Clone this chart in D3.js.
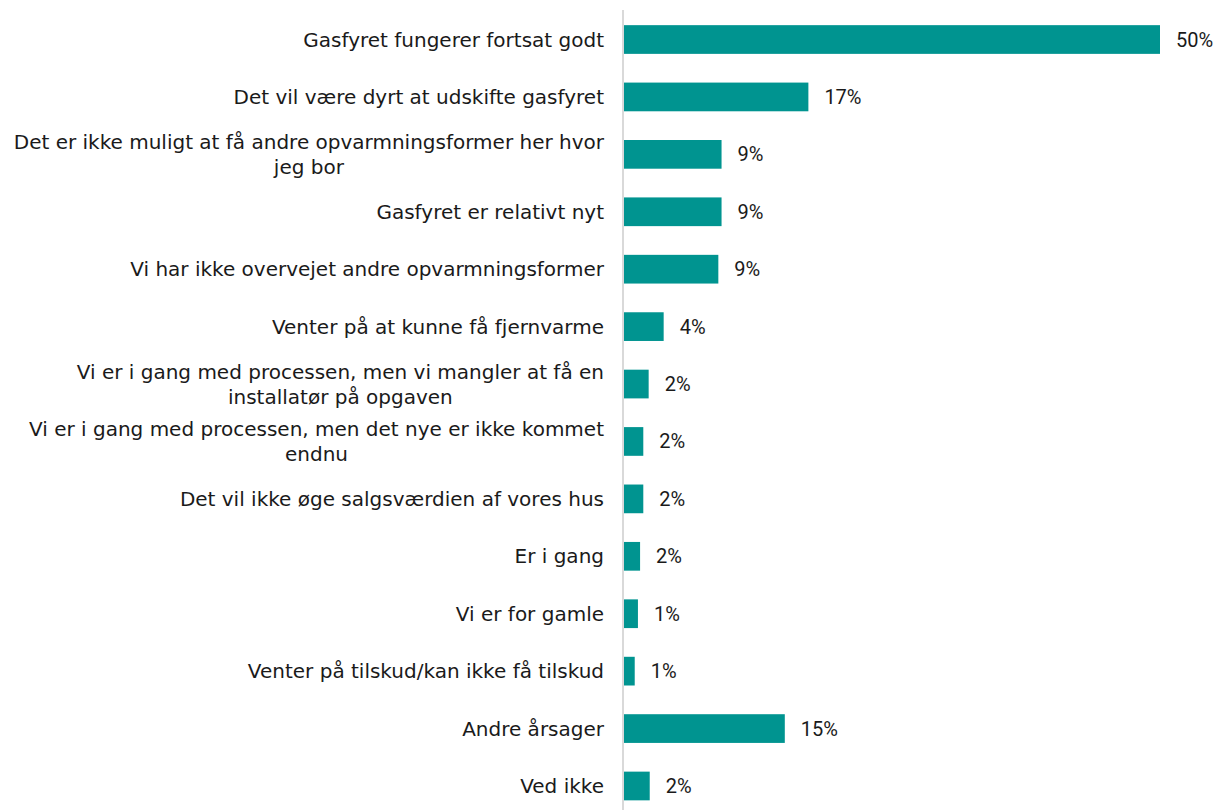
<!DOCTYPE html>
<html>
<head>
<meta charset="utf-8">
<script src="https://cdn.jsdelivr.net/npm/d3@7"></script>
<style>
  body { margin: 0; background: #fff; }
  svg { display: block; font-family: "DejaVu Sans", sans-serif; }
</style>
</head>
<body>
<svg class="d3-content"></svg>
<script>
//data
const categories = [
    "Gasfyret fungerer fortsat godt",
    "Det vil være dyrt at udskifte gasfyret",
    "Det er ikke muligt at få andre opvarmningsformer her hvor\njeg bor",
    "Gasfyret er relativt nyt",
    "Vi har ikke overvejet andre opvarmningsformer",
    "Venter på at kunne få fjernvarme",
    "Vi er i gang med processen, men vi mangler at få en\ninstallatør på opgaven",
    "Vi er i gang med processen, men det nye er ikke kommet\nendnu",
    "Det vil ikke øge salgsværdien af vores hus",
    "Er i gang",
    "Vi er for gamle",
    "Venter på tilskud/kan ikke få tilskud",
    "Andre årsager",
    "Ved ikke"
]
const values = [50, 17.2, 9.1, 9.1, 8.8, 3.7, 2.3, 1.8, 1.8, 1.5, 1.3, 1.0, 15.0, 2.4]
const dataSet = categories.map((c, i) => ({ category: c, value: values[i] }))

//dimensions
const w = 1217
const h = 810
const axisX = 623
const labelRight = 604
const fontSize = 20

//scales
const xScale = d3.scaleLinear()
    .domain([0, 50])
    .range([624, 1160])
const yScale = d3.scaleBand()
    .domain(categories)
    .range([10.8, 814.7])
    .paddingInner(0.5)
    .paddingOuter(0.25)

const svg = d3.select('.d3-content')
    .attr('width', w)
    .attr('height', h)

//bars
svg.append('g')
    .selectAll('rect')
    .data(dataSet)
    .join('rect')
    .attr('x', xScale(0))
    .attr('y', d => yScale(d.category))
    .attr('width', d => xScale(d.value) - xScale(0))
    .attr('height', yScale.bandwidth())
    .attr('fill', '#009490')

//axis line
svg.append('line')
    .attr('x1', axisX)
    .attr('x2', axisX)
    .attr('y1', 10)
    .attr('y2', h)
    .attr('stroke', '#d9d9d9')
    .attr('stroke-width', 2)

//category labels (wrapped lines centered within a right-aligned block)
const labels = svg.append('g')
    .selectAll('text')
    .data(dataSet)
    .join('text')
    .attr('fill', '#1a1a1a')
    .style('font-size', fontSize + 'px')
    .attr('text-anchor', 'middle')

labels.each(function(d) {
    const lines = d.category.split('\n')
    const text = d3.select(this)
    const cy = yScale(d.category) + yScale.bandwidth() / 2
    const lineH = 25
    const startY = cy - (lines.length - 1) * lineH / 2 + 7
    lines.forEach((l, i) => {
        text.append('tspan')
            .attr('y', startY + i * lineH)
            .text(l)
    })
    // measure the widest line and center all lines in it
    let maxW = 0
    text.selectAll('tspan').each(function() {
        maxW = Math.max(maxW, this.getComputedTextLength())
    })
    text.selectAll('tspan').attr('x', labelRight - maxW / 2)
})

//value labels (narrower face so "50%" fits at the right edge)
svg.append('g')
    .selectAll('text')
    .data(dataSet)
    .join('text')
    .attr('x', d => xScale(d.value) + 16)
    .attr('y', d => yScale(d.category) + yScale.bandwidth() / 2 + 7)
    .attr('fill', '#1a1a1a')
    .style('font-family', 'Roboto, sans-serif')
    .style('font-size', fontSize + 'px')
    .text(d => Math.round(d.value) + '%')
</script>
</body>
</html>
